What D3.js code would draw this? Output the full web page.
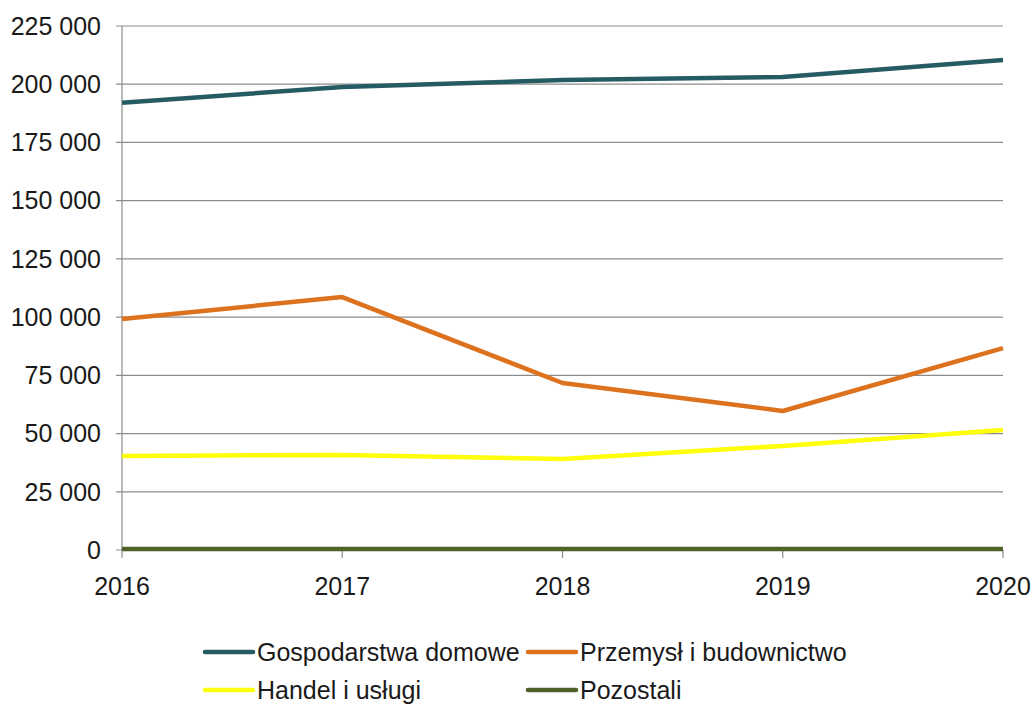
<!DOCTYPE html>
<html><head><meta charset="utf-8">
<script src="https://cdn.jsdelivr.net/npm/d3@7"></script>
<style>body{margin:0;background:#fff}svg{display:block}text{font-family:"Liberation Sans",Arial,sans-serif;fill:#1a1a1a}</style>
</head><body><svg id="c" width="1033" height="704"></svg>
<script>
const years = [2016, 2017, 2018, 2019, 2020];
const gospodarstwa = [192000, 198800, 201800, 203100, 210400];
const przemysl = [99200, 108600, 71700, 59700, 86700];
const handel = [40400, 40800, 39100, 44700, 51500];
const pozostali = [400, 400, 400, 400, 400];
const yTicks = [0, 25000, 50000, 75000, 100000, 125000, 150000, 175000, 200000, 225000];
const seriesNames = ["Gospodarstwa domowe", "Przemysł i budownictwo", "Handel i usługi", "Pozostali"];
const seriesColors = ["#255c64", "#dc711e", "#ffff0a", "#4e6128"];
const seriesValues = [gospodarstwa, przemysl, handel, pozostali];

const svg = d3.select("#c");
const x = d3.scalePoint().domain(years).range([122, 1003]);
const y = d3.scaleLinear().domain([0, 225000]).range([550, 26]);
const fmt = v => d3.format(",")(v).replace(/,/g, " ");

// gridlines
svg.append("g").selectAll("line").data(yTicks).join("line")
  .attr("x1", 116).attr("x2", 1003).attr("y1", d => y(d)).attr("y2", d => y(d))
  .attr("stroke", "#8c8c8c").attr("stroke-width", 1.2);
// y axis line
svg.append("line").attr("x1", 122).attr("x2", 122).attr("y1", 26).attr("y2", 550)
  .attr("stroke", "#8c8c8c").attr("stroke-width", 1.2);
// x tick marks
svg.append("g").selectAll("line").data(years).join("line")
  .attr("x1", d => x(d)).attr("x2", d => x(d)).attr("y1", 550).attr("y2", 558)
  .attr("stroke", "#8c8c8c").attr("stroke-width", 1.2);
// y labels
svg.append("g").selectAll("text").data(yTicks).join("text")
  .attr("x", 101).attr("y", d => y(d)).attr("dy", "0.35em").attr("text-anchor", "end")
  .attr("font-size", 25).text(d => fmt(d));
// x labels
svg.append("g").selectAll("text").data(years).join("text")
  .attr("x", d => x(d)).attr("y", 595).attr("text-anchor", "middle")
  .attr("font-size", 25).text(d => d);

const line = d3.line().x((d, i) => x(years[i])).y(d => y(d));
// draw order: pozostali, handel, przemysl, gospodarstwa
[3, 2, 1, 0].forEach(k => {
  svg.append("path").datum(seriesValues[k]).attr("d", line)
    .attr("fill", "none").attr("stroke", seriesColors[k]).attr("stroke-width", 4.5)
    .attr("stroke-linejoin", "round");
});

// legend
const legPos = [[205, 652], [528, 652], [205, 690], [528, 690]];
seriesNames.forEach((n, k) => {
  const [lx, ly] = legPos[k];
  svg.append("line").attr("x1", lx).attr("x2", lx + 48).attr("y1", ly).attr("y2", ly)
    .attr("stroke", seriesColors[k]).attr("stroke-width", 4.5).attr("stroke-linecap", "round");
  svg.append("text").attr("x", lx + 52).attr("y", ly).attr("dy", "0.36em")
    .attr("font-size", 25).text(n);
});
</script></body></html>
